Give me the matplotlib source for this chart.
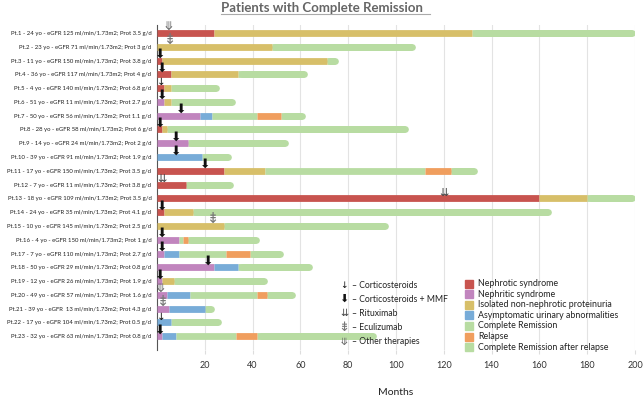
import matplotlib
matplotlib.use("Agg")
import matplotlib.pyplot as plt
from matplotlib.patches import Rectangle
from matplotlib.lines import Line2D

# ---------------- data ----------------
patient_labels = [
    "Pt.1 - 24 yo - eGFR 125 ml/min/1.73m2; Prot 3.5 g/d",
    "Pt.2 - 23 yo - eGFR 71 ml/min/1.73m2; Prot 3 g/d",
    "Pt.3 - 11 yo - eGFR 150 ml/min/1.73m2; Prot 3.8 g/d",
    "Pt.4 - 36 yo - eGFR 117 ml/min/1.73m2; Prot 4 g/d",
    "Pt.5 - 4 yo - eGFR 140 ml/min/1.73m2; Prot 6.8 g/d",
    "Pt.6 - 51 yo - eGFR 11 ml/min/1.73m2; Prot 2.7 g/d",
    "Pt.7 - 50 yo - eGFR 56 ml/min/1.73m2; Prot 1.1 g/d",
    "Pt.8 - 28 yo - eGFR 58 ml/min/1.73m2; Prot 6 g/d",
    "Pt.9 - 14 yo - eGFR 24 ml/min/1.73m2; Prot 2 g/d",
    "Pt.10 - 39 yo - eGFR 91 ml/min/1.73m2; Prot 1.9 g/d",
    "Pt.11 - 17 yo - eGFR 150 ml/min/1.73m2; Prot 3.5 g/d",
    "Pt.12 - 7 yo - eGFR 11 ml/min/1.73m2; Prot 3.8 g/d",
    "Pt.13 - 18 yo - eGFR 109 ml/min/1.73m2; Prot 3.5 g/d",
    "Pt.14 - 24 yo - eGFR 35 ml/min/1.73m2; Prot 4.1 g/d",
    "Pt.15 - 10 yo - eGFR 145 ml/min/1.73m2; Prot 2.5 g/d",
    "Pt.16 - 4 yo - eGFR 150 ml/min/1.73m2; Prot 1 g/d",
    "Pt.17 - 7 yo - eGFR 110 ml/min/1.73m2; Prot 2.7 g/d",
    "Pt.18 - 50 yo - eGFR 29 ml/min/1.73m2; Prot 0.8 g/d",
    "Pt.19 - 12 yo - eGFR 26 ml/min/1.73m2; Prot 1.9 g/d",
    "Pt.20 - 49 yo - eGFR 57 ml/min/1.73m2; Prot 1.6 g/d",
    "Pt.21 - 39 yo - eGFR  13 ml/min/1.73m2; Prot 4.3 g/d",
    "Pt.22 - 17 yo - eGFR 104 ml/min/1.73m2; Prot 0.5 g/d",
    "Pt.23 - 32 yo - eGFR 63 ml/min/1.73m2; Prot 0.8 g/d",
]

# state codes: NS nephrotic, NE nephritic, INP isolated proteinuria,
# AUA asymptomatic urinary abn., CR complete remission, R relapse, CRR CR after relapse
patient_states = [
    ["NS", "INP", "CR"],
    ["INP", "CR"],
    ["NS", "INP", "CR"],
    ["NS", "INP", "CR"],
    ["NS", "INP", "CR"],
    ["NE", "INP", "CR"],
    ["NE", "AUA", "CR", "R", "CRR"],
    ["NS", "INP", "CR"],
    ["NE", "CR"],
    ["AUA", "CR"],
    ["NS", "INP", "CR", "R", "CRR"],
    ["NS", "CR"],
    ["NS", "INP", "CR"],
    ["NS", "INP", "CR"],
    ["INP", "CR"],
    ["NE", "CR", "R", "CRR"],
    ["NE", "AUA", "CR", "R", "CRR"],
    ["NE", "AUA", "CR"],
    ["NE", "INP", "CR"],
    ["NE", "AUA", "CR", "R", "CRR"],
    ["NE", "AUA", "CR"],
    ["AUA", "CR"],
    ["NE", "AUA", "CR", "R", "CRR"],
]
# month at which each state ends
patient_ends = [
    [24, 132, 200],
    [48, 108],
    [2, 71, 76],
    [6, 34, 63],
    [3, 6, 26],
    [3, 6, 33],
    [18, 23, 42, 52, 62],
    [2, 4, 105],
    [13, 55],
    [19, 31],
    [28, 45, 112, 123, 134],
    [12, 32],
    [160, 180, 200],
    [3, 15, 165],
    [28, 97],
    [9, 11, 13, 43],
    [3, 9, 29, 39, 53],
    [24, 34, 65],
    [2, 7, 46],
    [4, 14, 42, 46, 58],
    [5, 20, 24],
    [6, 27],
    [2, 8, 33, 42, 92],
]

# therapy start (months) and type per patient
therapy_month = [5, 5, 1.5, 2, 2, 2, 10, 1.5, 8, 8, 20, 2, 120, 2, 23, 2, 2,
                 21.5, 1.3, 1.5, 2, 2, 1.3]
therapy_type = ["OT", "ECU", "CMMF", "CMMF", "C", "CMMF", "CMMF", "CMMF", "CMMF",
                "CMMF", "CMMF", "RTX", "RTX", "CMMF", "ECU", "CMMF", "CMMF", "CMMF",
                "CMMF", "OT", "ECU", "C", "CMMF"]

state_names = {
    "NS": "Nephrotic syndrome",
    "NE": "Nephritic syndrome",
    "INP": "Isolated non-nephrotic proteinuria",
    "AUA": "Asymptomatic urinary abnormalities",
    "CR": "Complete Remission",
    "R": "Relapse",
    "CRR": "Complete Remission after relapse",
}
state_order = ["NS", "NE", "INP", "AUA", "CR", "R", "CRR"]
state_colors = {
    "NS": "#c8544f",
    "NE": "#c185be",
    "INP": "#d7bf69",
    "AUA": "#78acd8",
    "CR": "#b8dca2",
    "R": "#f09e5e",
    "CRR": "#b8dca2",
}

therapy_order = ["C", "CMMF", "RTX", "ECU", "OT"]
therapy_names = {
    "C": "Corticosteroids",
    "CMMF": "Corticosteroids + MMF",
    "RTX": "Rituximab",
    "ECU": "Eculizumab",
    "OT": "Other therapies",
}
therapy_glyph = {"C": "\u2193", "CMMF": "\u2B07", "RTX": "\u21CA",
                 "ECU": "\u21DF", "OT": "\u290B"}
therapy_color = {"C": "#111111", "CMMF": "#111111", "RTX": "#444444",
                 "ECU": "#777777", "OT": "#666666"}
therapy_size = {"C": 7.5, "CMMF": 9, "RTX": 8, "ECU": 10.5, "OT": 8.5}

x_ticks = [20, 40, 60, 80, 100, 120, 140, 160, 180, 200]

# ---------------- figure ----------------
TXT = ["Lato", "DejaVu Sans"]
plt.rcParams["font.family"] = TXT

W, H = 643, 404
fig = plt.figure(figsize=(W / 100, H / 100), dpi=100)
ax_l, ax_r, ax_t, ax_b = 157, 635, 25, 350
ax = fig.add_axes([ax_l / W, 1 - ax_b / H, (ax_r - ax_l) / W, (ax_b - ax_t) / H])

n = len(patient_labels)
ax.set_xlim(0, 200)
ax.set_ylim(n - 1 + 1.0, -0.58)

bar_px = 6.8
lw_pt = bar_px * 72 / 100
px_per_month = (ax_r - ax_l) / 200
cap = (bar_px / 2) / px_per_month

for i, (states, ends) in enumerate(zip(patient_states, patient_ends)):
    starts = [0] + ends[:-1]
    # last segment with rounded end
    s, e, st = starts[-1], ends[-1], states[-1]
    ax.plot([s + cap, e - cap], [i, i], color=state_colors[st], lw=lw_pt,
            solid_capstyle="round", zorder=2)
    ax.plot([s, e - cap], [i, i], color=state_colors[st], lw=lw_pt,
            solid_capstyle="butt", zorder=2)
    for s, e, st in zip(starts[:-1], ends[:-1], states[:-1]):
        ax.plot([s, e], [i, i], color=state_colors[st], lw=lw_pt,
                solid_capstyle="butt", zorder=3)

for i, (m, t) in enumerate(zip(therapy_month, therapy_type)):
    ax.text(m, i - 0.2, therapy_glyph[t], ha="center", va="baseline",
            fontsize=therapy_size[t], color=therapy_color[t],
            family=["DejaVu Sans"], zorder=5, clip_on=False)

ax.set_yticks(range(n))
ax.set_yticklabels(patient_labels, fontsize=4.35, color="#222222")
ax.tick_params(axis="y", length=0, pad=4)
ax.set_xticks(x_ticks)
ax.set_xticklabels([str(v) for v in x_ticks], fontsize=6.5, color="#333333")
ax.tick_params(axis="x", length=3, color="#dddddd", pad=5)
ax.grid(axis="x", color="#e3e3e3", lw=0.8, zorder=0)
for sp in ["top", "right", "bottom"]:
    ax.spines[sp].set_visible(False)
ax.spines["left"].set_color("#555555")
ax.spines["left"].set_linewidth(0.8)
ax.set_xlabel("Months", fontsize=7.5, color="#222222", labelpad=13)

# therapy legend
ty0 = 285
for k, t in enumerate(therapy_order):
    y = 1 - (ty0 + k * 14.2) / H
    fig.text(344 / W, y, therapy_glyph[t], ha="center", va="center",
             fontsize=therapy_size[t] - 1, color=therapy_color[t], family=["DejaVu Sans"])
    fig.text(352 / W, y, "\u2013 " + therapy_names[t], ha="left", va="center",
             fontsize=6.2, color="#222222")

# state legend
sy0 = 283.5
for k, s in enumerate(state_order):
    yc = sy0 + k * 10.6
    fig.patches.append(Rectangle((465 / W, 1 - (yc + 4) / H), 8 / W, 8 / H,
                                 transform=fig.transFigure, color=state_colors[s]))
    fig.text(478 / W, 1 - yc / H, state_names[s], ha="left", va="center",
             fontsize=6.4, color="#222222")

# title with underline
title = fig.text(0.5, 1 - 8 / H, "Patients with Complete Remission", ha="center",
                 va="center", fontsize=9.5, fontweight="bold", color="#666666")
fig.canvas.draw()
bb = title.get_window_extent(fig.canvas.get_renderer())
fig.lines.append(Line2D([bb.x0 / W, bb.x1 / W + 8 / W], [1 - 14 / H, 1 - 14 / H],
                        transform=fig.transFigure, color="#aaaaaa", lw=0.8))

fig.savefig("out.png", dpi=100)
